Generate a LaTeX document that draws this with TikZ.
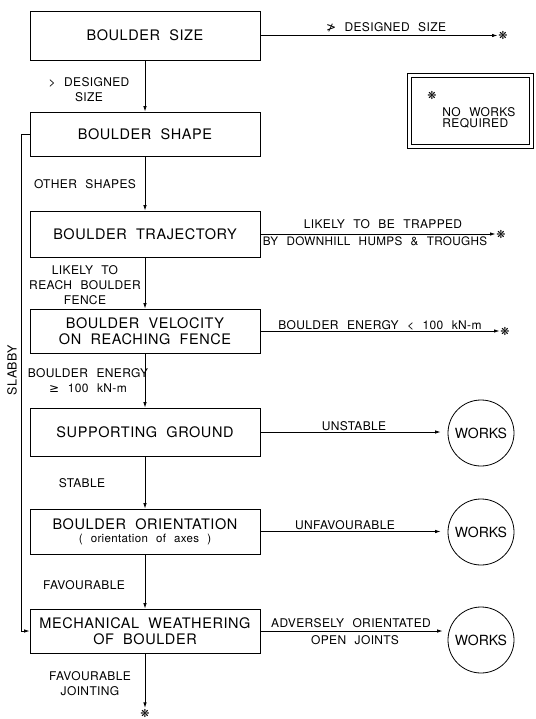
\documentclass[tikz,border=0pt]{standalone}
\usepackage{fontspec}
\usetikzlibrary{arrows.meta}
\newfontfamily\boxfont[LetterSpace=4,WordSpace=2]{TeX Gyre Heros}
\newfontfamily\labfont[LetterSpace=3,WordSpace=2.3]{TeX Gyre Heros}
\newfontfamily\worksfont{TeX Gyre Heros}
\newfontfamily\symfont{DejaVu Sans}
\begin{document}
\begin{tikzpicture}[x=1pt,y=-1pt,line width=0.8pt,
  mbox/.style={draw,minimum width=230pt,inner sep=0pt,align=center,
    font=\boxfont\fontsize{14.5}{16}\selectfont},
  lab/.style={inner sep=0pt,align=center,font=\labfont\fontsize{12}{15}\selectfont},
  arr/.style={-{Latex[length=5.5pt,width=3.5pt]}},
  circ/.style={draw,circle,minimum size=66pt,inner sep=0pt,
    font=\worksfont\fontsize{14}{16}\selectfont},
  astk/.style={inner sep=0.5pt,font=\symfont\fontsize{11}{11}\selectfont}]
\useasboundingbox (0,0) rectangle (535,719);

% main boxes
\node[mbox,minimum height=49pt] (b1) at (145,35.5) {BOULDER SIZE};
\node[mbox,minimum height=44pt] (b2) at (145,134) {BOULDER SHAPE};
\node[mbox,minimum height=46pt] (b3) at (145,234) {BOULDER TRAJECTORY};
\node[mbox,minimum height=44pt] (b4) at (145,331) {BOULDER VELOCITY\\ON REACHING FENCE};
\node[mbox,minimum height=48pt] (b5) at (145,432) {SUPPORTING GROUND};
\node[mbox,minimum height=45pt] (b6) at (145,531.5) {BOULDER ORIENTATION\\[-3pt]{\labfont\fontsize{11.5}{12}\selectfont( orientation of axes )}};
\node[mbox,minimum height=44pt] (b7) at (145,631) {MECHANICAL WEATHERING\\OF BOULDER};

% terminal asterisks
\node[astk] (s1) at (503,35.5) {❋};
\node[astk] (s2) at (501,234) {❋};
\node[astk] (s3) at (505,331) {❋};
\node[astk] (s4) at (145,713) {❋};

% works circles
\node[circ] (w1) at (481,433) {WORKS};
\node[circ] (w2) at (481,532) {WORKS};
\node[circ] (w3) at (481,640) {WORKS};

% legend box
\node[draw,minimum width=126pt,minimum height=75pt] (nwo) at (470,110.5) {};
\node[draw,line width=0.6pt,minimum width=118pt,minimum height=67pt] (nwi) at (470,110.5) {};
\node[astk] (s5) at (432,95) {❋};
\node[lab,align=left,anchor=north west,font=\labfont\fontsize{12}{11.5}\selectfont] (nwt) at (442,107) {NO WORKS\\REQUIRED};

% vertical connectors
\draw[arr] (b1.south) -- (b2.north);
\draw[arr] (b2.south) -- (b3.north);
\draw[arr] (b3.south) -- (b4.north);
\draw[arr] (b4.south) -- (b5.north);
\draw[arr] (b5.south) -- (b6.north);
\draw[arr] (b6.south) -- (b7.north);
\draw[arr] (b7.south) -- (s4.north);

% horizontal connectors
\draw[arr] (b1.east) -- (b1.east -| s1.west);
\draw[arr] (b3.east) -- (b3.east -| s2.west);
\draw[arr] (b4.east) -- (b4.east -| s3.west);
\draw[arr,shorten >=7pt] (b5.east) -- (b5.east -| w1.west);
\draw[arr,shorten >=7pt] (b6.east) -- (b6.east -| w2.west);
\draw[arr,shorten >=5pt] (b7.east) -- (b7.east -| w3.west);

% slabby bypass
\draw[arr] (b2.west) -- ++(-8,0) |- (b7.west);
\node[lab,rotate=90,font=\labfont\fontsize{12.5}{14}\selectfont] (sl) at (12,370) {SLABBY};

% labels
\node[lab] (l1) at (386,27) {{\symfont ≯} DESIGNED SIZE};
\node[lab] (l2) at (89,90) {> DESIGNED\\SIZE};
\node[lab] (l3) at (85,184) {OTHER SHAPES};
\node[lab] (l4) at (383,224) {LIKELY TO BE TRAPPED};
\node[lab,font=\labfont\fontsize{11.7}{15}\selectfont] (l5) at (375,241) {BY DOWNHILL HUMPS \& TROUGHS};
\node[lab] (l6) at (85,285) {LIKELY TO\\REACH BOULDER\\FENCE};
\node[lab] (l7) at (380,325) {BOULDER ENERGY < 100 kN-m};
\node[lab] (l8) at (88,381) {BOULDER ENERGY\\{\symfont ≥} 100 kN-m};
\node[lab] (l9) at (354,426) {UNSTABLE};
\node[lab] (l10) at (82,483) {STABLE};
\node[lab] (l11) at (345,525) {UNFAVOURABLE};
\node[lab] (l12) at (84,585) {FAVOURABLE};
\node[lab] (l13) at (351,623) {ADVERSELY ORIENTATED};
\node[lab] (l14) at (355,640) {OPEN JOINTS};
\node[lab] (l15) at (90,683.5) {FAVOURABLE\\JOINTING};
\end{tikzpicture}
\end{document}
